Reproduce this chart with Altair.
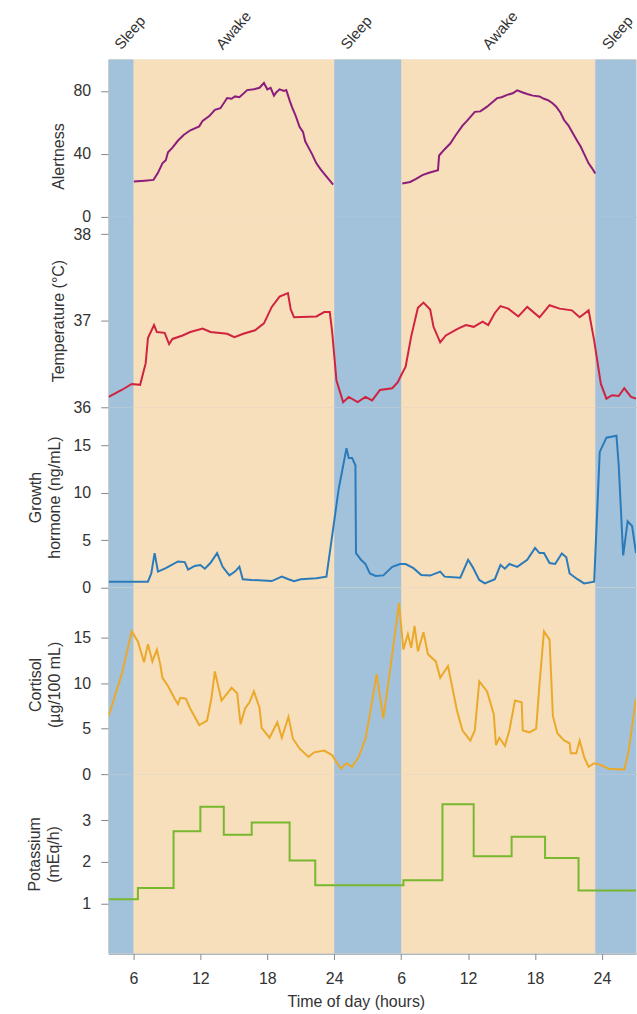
import altair as alt
import pandas as pd

# ---------------- data ----------------
X_MIN, X_MAX = 3.78, 51.05
SLEEP_START = [3.78, 24.0, 47.4]
SLEEP_END = [6.0, 30.0, 51.05]
AWAKE_START = [6.0, 30.0]
AWAKE_END = [24.0, 47.4]

STATE_LABELS = ["Sleep", "Awake", "Sleep", "Awake", "Sleep"]
STATE_LABEL_T = [4.9, 14.0, 25.2, 37.9, 48.6]

X_TICKS = [6, 12, 18, 24, 30, 36, 42, 48]

ALERT1_T = [6.04, 7.0, 7.8, 8.2, 8.6, 8.9, 9.1, 9.5, 10.0, 10.5, 11.1, 11.9, 12.2, 12.8, 13.3,
            13.8, 14.4, 14.8, 15.1, 15.5, 16.2, 16.8, 17.3, 17.7, 18.0, 18.3, 18.6, 18.8, 19.1,
            19.5, 19.7, 20.0, 20.2, 20.5, 20.9, 21.2, 21.4, 21.7, 22.0, 22.4, 22.8, 23.2, 23.9]
ALERT1_V = [22.5, 23, 23.5, 28, 34, 36, 41, 44, 48.5, 52, 55, 57.5, 61, 64, 68,
            69, 75.5, 75, 76.5, 76, 80.5, 81, 82, 85, 81, 82, 77, 79, 81,
            80, 80.5, 74, 70, 65, 57, 54, 48, 44, 40, 34, 30, 26.5, 20.5]
ALERT2_T = [30.1, 30.8, 31.3, 31.9, 32.5, 33.3, 33.4, 33.9, 34.4, 34.9, 35.5, 35.9, 36.6, 37.1,
            37.7, 38.2, 38.6, 39.0, 39.5, 40.0, 40.4, 40.9, 41.3, 41.8, 42.4, 42.8, 43.2, 43.6,
            43.9, 44.3, 44.6, 45.0, 45.4, 45.8, 46.1, 46.4, 46.8, 47.1, 47.4]
ALERT2_V = [21.2, 22.2, 24, 26.5, 28, 29.7, 39, 43, 46.6, 52, 58, 61, 66.7, 67,
            70, 73, 75.4, 76, 77.5, 78.5, 80.3, 79, 78, 77, 76.5, 75, 74, 72,
            70, 66, 61.5, 58, 53, 48, 44.5, 40, 34, 31, 27.5]

TEMP_T = [3.78, 4.95, 5.85, 6.6, 7.1, 7.3, 7.85, 8.1, 8.8, 9.2, 9.5, 10.4, 11.1, 12.2, 12.9,
          14.4, 15.05, 15.85, 16.9, 17.7, 18.4, 19.1, 19.85, 20.1, 20.4, 22.4, 23.1, 23.6, 23.8,
          24.2, 24.8, 25.3, 26.1, 26.8, 27.4, 28.1, 29.2, 29.7, 30.0, 30.4, 30.9, 31.5, 32.0,
          32.6, 32.9, 33.5, 34.0, 35.1, 35.8, 36.5, 37.3, 37.8, 38.4, 38.9, 39.6, 40.5, 41.3,
          42.4, 43.3, 44.2, 45.3, 46.0, 46.8, 47.3, 47.9, 48.4, 48.9, 49.5, 50.0, 50.6, 51.05]
TEMP_V = [36.12, 36.2, 36.27, 36.26, 36.51, 36.8, 36.95, 36.87, 36.86, 36.73, 36.79, 36.83,
          36.87, 36.91, 36.87, 36.85, 36.81, 36.85, 36.89, 36.97, 37.16, 37.28, 37.32, 37.13,
          37.04, 37.05, 37.1, 37.1, 36.89, 36.31, 36.06, 36.12, 36.06, 36.12, 36.08, 36.2,
          36.22, 36.29, 36.37, 36.47, 36.82, 37.15, 37.21, 37.13, 36.93, 36.75, 36.83, 36.91,
          36.95, 36.93, 36.99, 36.95, 37.09, 37.17, 37.14, 37.05, 37.16, 37.04, 37.18, 37.14,
          37.12, 37.04, 37.12, 36.77, 36.27, 36.1, 36.14, 36.13, 36.22, 36.12, 36.1]

GH_T = [3.78, 7.3, 7.6, 7.9, 8.2, 8.9, 10.0, 10.6, 10.9, 11.5, 12.0, 12.4, 12.9, 13.5, 14.0,
        14.6, 15.1, 15.5, 15.8, 16.6, 18.4, 19.3, 19.9, 20.4, 21.0, 22.4, 23.3, 24.4, 25.1,
        25.3, 25.6, 25.9, 25.95, 26.4, 26.8, 27.2, 27.7, 28.4, 29.2, 29.9, 30.4, 31.1, 31.8,
        32.6, 33.5, 33.9, 35.3, 36.0, 36.4, 37.0, 37.5, 38.4, 38.9, 39.3, 39.7, 40.4, 41.3,
        42.0, 42.4, 42.8, 43.3, 43.8, 44.4, 44.8, 45.1, 45.8, 46.4, 47.3, 47.8, 48.4, 49.3,
        49.5, 49.9, 50.3, 50.7, 51.05]
GH_V = [0.64, 0.64, 1.5, 3.65, 1.7, 2.06, 2.77, 2.7, 1.9, 2.3, 2.4, 2.0, 2.6, 3.65, 2.2,
        1.3, 1.7, 2.2, 0.9, 0.82, 0.7, 1.17, 0.9, 0.7, 0.89, 1.0, 1.17, 10.4, 14.7,
        13.65, 13.65, 12.9, 3.65, 2.94, 2.5, 1.5, 1.24, 1.3, 2.2, 2.5, 2.5, 2.06, 1.35,
        1.28, 1.7, 1.17, 1.06, 2.94, 2.2, 0.82, 0.46, 0.9, 2.4, 2.0, 2.5, 2.2, 2.94,
        4.2, 3.65, 3.65, 2.6, 2.5, 3.6, 3.2, 1.5, 0.9, 0.46, 0.64, 14.3, 15.8, 16.0,
        12.9, 3.4, 7.0, 6.5, 3.65]

CORT_T = [3.78, 4.95, 5.85, 6.4, 6.95, 7.3, 7.7, 8.1, 8.4, 8.6, 9.1, 9.7, 10.0, 10.2, 10.7,
          11.1, 11.9, 12.6, 13.0, 13.3, 13.9, 14.8, 15.3, 15.6, 16.0, 16.4, 16.8, 17.3, 17.5,
          18.2, 18.9, 19.3, 19.9, 20.3, 20.9, 21.7, 22.2, 23.1, 23.8, 24.6, 25.1, 25.6, 26.2,
          26.8, 27.3, 27.8, 28.4, 28.8, 29.3, 29.8, 30.2, 30.6, 30.9, 31.2, 31.5, 32.0, 32.4,
          33.1, 33.5, 34.2, 35.0, 35.5, 36.2, 36.6, 37.0, 37.7, 38.3, 38.5, 38.8, 39.3, 39.7,
          40.2, 40.8, 40.9, 41.5, 42.1, 42.4, 42.8, 43.3, 43.6, 44.0, 44.6, 45.1, 45.2, 45.7,
          46.0, 46.4, 46.8, 47.3, 47.9, 48.6, 50.0, 50.4, 51.05]
CORT_V = [6.4, 11.0, 15.7, 14.6, 12.3, 14.3, 12.4, 13.7, 12.1, 10.6, 9.7, 8.3, 7.7, 8.4, 8.3,
          7.2, 5.4, 5.9, 8.4, 11.3, 8.1, 9.5, 8.9, 5.5, 7.2, 7.9, 9.1, 7.3, 5.1,
          4.0, 5.7, 4.0, 6.3, 3.9, 2.8, 1.9, 2.4, 2.6, 2.1, 0.6, 1.2, 0.8, 1.9,
          3.9, 7.3, 11.0, 6.1, 9.6, 14.1, 18.8, 13.7, 15.4, 13.9, 16.3, 13.5, 15.6, 13.2,
          12.4, 10.6, 11.9, 7.0, 4.8, 3.7, 4.8, 10.2, 9.1, 6.6, 3.2, 4.0, 3.1, 4.8,
          8.1, 7.9, 4.8, 4.6, 5.0, 9.9, 15.7, 14.8, 6.4, 4.5, 3.7, 3.4, 2.3, 2.3,
          3.7, 1.9, 0.8, 1.2, 1.0, 0.6, 0.5, 2.6, 8.3]

K_T = [3.78, 6.4, 9.6, 12.0, 14.1, 16.6, 20.0, 22.3, 30.2, 33.7, 36.5, 39.9, 42.9, 45.9, 51.05]
K_V = [1.1, 1.37, 2.73, 3.32, 2.65, 2.94, 2.03, 1.44, 1.56, 3.38, 2.13, 2.6, 2.09, 1.31, 1.31]

# ---------------- styling ----------------
FONT = "Liberation Sans"
BLUE = "#a2c1db"
TAN = "#f7dfbb"
W = 529
H = [158, 191, 181, 187, 180]
TXT = "#333333"

sleep_df = pd.DataFrame({"t0": SLEEP_START, "t1": SLEEP_END})
awake_df = pd.DataFrame({"t0": [X_MIN], "t1": [X_MAX]})  # awake background under the sleep bands
label_df = pd.DataFrame({"t": STATE_LABEL_T, "label": STATE_LABELS})

xscale = alt.Scale(domain=[X_MIN, X_MAX], nice=False, zero=False)

inner_xaxis = alt.Axis(labels=False, ticks=False, domain=True, domainColor="#555555",
                       domainWidth=1, grid=False, title="")
bottom_xaxis = alt.Axis(values=X_TICKS, grid=False, domain=True, domainColor="#7d90a3",
                        labelExpr="datum.value > 24 ? datum.value - 24 : datum.value",
                        tickSize=6, tickColor="#888888", labelPadding=11, labelFlush=False,
                        labelFontSize=16, labelColor=TXT, labelFont=FONT,
                        title="Time of day (hours)", titleFontSize=16, titleFontWeight="normal",
                        titleColor=TXT, titleFont=FONT, titleX=248, titleY=48,
                        titleBaseline="middle", titleAlign="center")


def xenc(field, bottom):
    return alt.X(field, type="quantitative", scale=xscale,
                 axis=bottom_xaxis if bottom else inner_xaxis,
                 title="Time of day (hours)" if bottom else "")


def yaxis(title, values, tx, ty):
    return alt.Axis(values=values, grid=False, domain=True, domainColor="#7d90a3",
                    tickSize=8, tickColor="#888888", labelPadding=10,
                    labelFontSize=16, labelColor=TXT, labelFont=FONT,
                    title=title, titleFontSize=16, titleFontWeight="normal", titleColor=TXT,
                    titleFont=FONT, titleX=tx, titleY=ty, titleAngle=270,
                    titleAlign="center", titleBaseline="middle", titleLineHeight=19)


def bands(h, bottom):
    a = alt.Chart(awake_df).mark_rect(color=TAN).encode(
        x=xenc("t0", bottom), x2="t1", y=alt.value(0), y2=alt.value(h))
    s = alt.Chart(sleep_df).mark_rect(color=BLUE).encode(
        x=xenc("t0", bottom), x2="t1", y=alt.value(0), y2=alt.value(h))
    return [a, s]


def panel(df, color, ydomain, yvalues, title, tx, ty, h, bottom=False, interp="linear",
          detail=False, extra=None):
    enc = dict(x=xenc("t", bottom),
               y=alt.Y("v:Q", scale=alt.Scale(domain=ydomain, nice=False, zero=False),
                       axis=yaxis(title, yvalues, tx, ty)))
    if detail:
        enc["detail"] = "seg:N"
    line = alt.Chart(df).mark_line(color=color, strokeWidth=2, clip=True,
                                   interpolate=interp).encode(**enc)
    layers = bands(h, bottom) + [line]
    if extra is not None:
        layers.append(extra)
    return alt.layer(*layers).properties(width=W, height=h)


alert_df = pd.concat([
    pd.DataFrame({"t": ALERT1_T, "v": ALERT1_V, "seg": "a"}),
    pd.DataFrame({"t": ALERT2_T, "v": ALERT2_V, "seg": "b"}),
])
temp_df = pd.DataFrame({"t": TEMP_T, "v": TEMP_V})
gh_df = pd.DataFrame({"t": GH_T, "v": GH_V})
cort_df = pd.DataFrame({"t": CORT_T, "v": CORT_V})
k_df = pd.DataFrame({"t": K_T, "v": K_V})

state_text = alt.Chart(label_df).mark_text(
    angle=311, align="left", baseline="alphabetic", fontSize=15, font=FONT, color=TXT
).encode(x=xenc("t", False), y=alt.value(-9), text="label:N")

p1 = panel(alert_df, "#8c1d7c", [0, 100], [0, 40, 80], "Alertness", -50, 97, H[0],
           detail=True, extra=state_text)
p2 = panel(temp_df, "#d0233f", [36, 38.2], [36, 37, 38], "Temperature (°C)", -50, 104, H[1])
p3 = panel(gh_df, "#2b7bba", [0, 19], [0, 5, 10, 15], ["Growth", "hormone (ng/mL)"],
           -73, 90, H[2])
p4 = panel(cort_df, "#eba92c", [0, 20.5], [0, 5, 10, 15], ["Cortisol", "(µg/100 mL)"],
           -73, 97, H[3])
p5 = panel(k_df, "#77b82f", [-0.2, 4.1], [1, 2, 3], ["Potassium", "(mEq/h)"],
           -74, 80, H[4], bottom=True, interp="step-after")

chart = alt.vconcat(p1, p2, p3, p4, p5, spacing=0, bounds="flush").properties(
    padding={"left": 26, "top": 6, "right": 0, "bottom": 0}
).configure_view(strokeWidth=0).configure(background="white")

chart.save("out.html", embed_options={"renderer": "svg", "actions": False})
